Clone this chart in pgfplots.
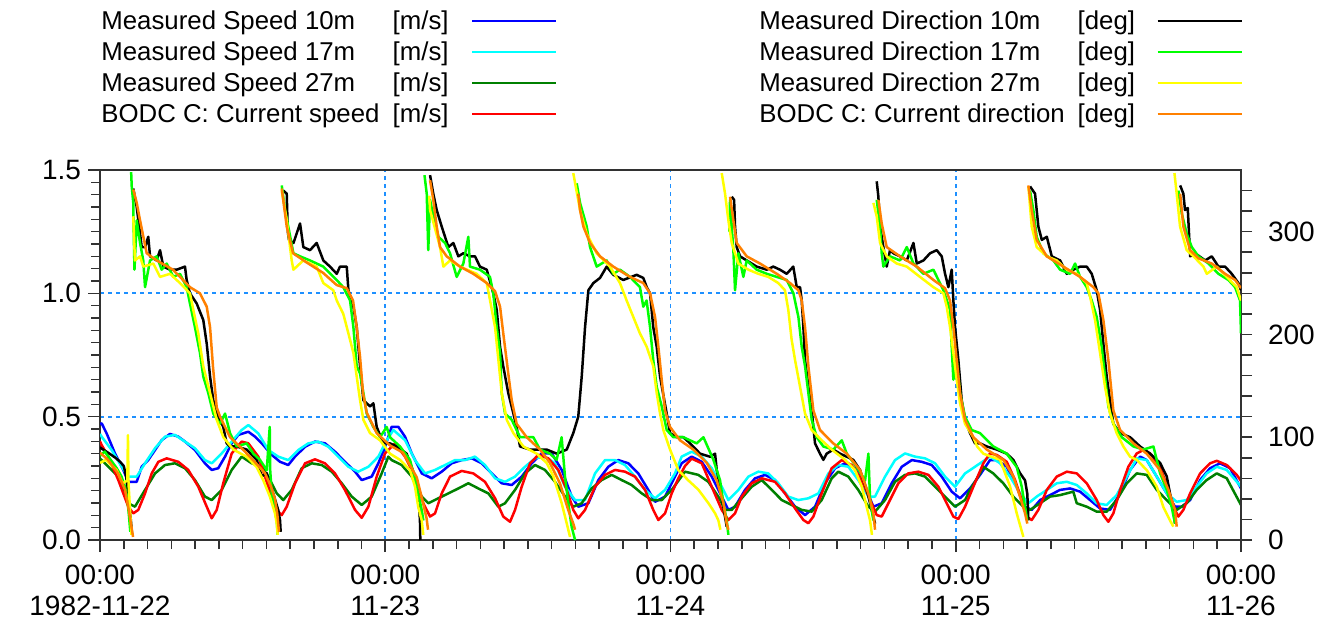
\documentclass[border=0pt]{standalone}
\usepackage{fontspec}
\setmainfont{Liberation Sans}
\usepackage{pgfplots}
\pgfplotsset{compat=1.18}

\definecolor{gridblue}{RGB}{30,144,255}
\definecolor{spd10}{RGB}{0,0,255}
\definecolor{spd17}{RGB}{0,255,255}
\definecolor{spd27}{RGB}{0,128,0}
\definecolor{spdmod}{RGB}{255,0,0}
\definecolor{dir10}{RGB}{0,0,0}
\definecolor{dir17}{RGB}{0,255,0}
\definecolor{dir27}{RGB}{255,255,0}
\definecolor{dirmod}{RGB}{255,128,0}
\definecolor{framegray}{RGB}{50,50,50}

\begin{document}
\begin{tikzpicture}
\pgfplotsset{
  panel/.style={
    at={(50pt,-270pt)}, anchor=south west,
    scale only axis, width=570.5pt, height=185pt,
    xmin=0, xmax=96,
    tick align=outside,
    major tick length=6pt, minor tick length=4.5pt,
    every tick/.style={line width=0.8pt, framegray},
    axis line style={line width=1pt, framegray},
    tick label style={font=\fontsize{14}{15.5}\selectfont},
    /pgf/number format/assume math mode=true,
    unbounded coords=jump,
    every axis plot/.append style={line width=1.25pt, line join=round, mark=none},
  }
}

% ---------------- speeds (left axis, m/s) ----------------
\begin{axis}[panel,
  ymin=0, ymax=1.5,
  xtick={0,24,48,72,96}, minor x tick num=11,
  xticklabels={{00:00\\1982-11-22},{00:00\\11-23},{00:00\\11-24},{00:00\\11-25},{00:00\\11-26}},
  xticklabel style={align=center, yshift=-3pt},
  ytick={0,0.5,1,1.5}, minor y tick num=9,
  yticklabel style={/pgf/number format/.cd, fixed, fixed zerofill, precision=1},
  xtick pos=left, ytick pos=left,
  grid=major,
  grid style={gridblue, line width=0.9pt, dash pattern=on 2pt off 2pt},
]
% Measured speed 10 m
\addplot[spd10] coordinates {
(0,0.47)(0.14,0.473)(0.56,0.432)(1.26,0.351)(1.96,0.284)(2.38,0.236)(3.09,0.236)(3.51,0.297)(4.06,0.324)(4.63,0.365)(5.19,0.405)(5.89,0.430)(6.59,0.419)(7.15,0.399)(7.99,0.365)(8.83,0.311)(9.40,0.284)(9.95,0.291)(10.52,0.338)(11.08,0.392)(11.64,0.426)(12.48,0.439)(13.04,0.419)(13.61,0.392)(14.45,0.345)(15.15,0.317)(15.84,0.304)(16.41,0.338)(17.25,0.378)(18.09,0.399)(18.93,0.392)(19.77,0.358)(20.61,0.317)(21.46,0.277)(22.02,0.243)(22.86,0.257)(23.42,0.311)(23.98,0.378)(24.54,0.459)(25.10,0.459)(25.66,0.419)(26.23,0.351)(27.07,0.270)(27.91,0.250)(28.75,0.277)(29.59,0.311)(30.43,0.324)(31.28,0.331)(32.12,0.311)(32.96,0.270)(33.80,0.230)(34.64,0.223)(35.48,0.257)(36.32,0.311)(37.16,0.351)(38.01,0.351)(38.85,0.284)(39.69,0.176)(40.24,0.135)(41.09,0.149)(41.93,0.243)(42.77,0.297)(43.61,0.324)(44.45,0.311)(45.29,0.270)(46.13,0.203)(46.70,0.155)(47.54,0.176)(48.38,0.257)(48.94,0.311)(49.78,0.338)(50.63,0.317)(51.47,0.257)(52.31,0.176)(52.87,0.122)(53.43,0.135)(54.27,0.203)(55.11,0.250)(55.96,0.264)(56.79,0.243)(57.64,0.189)(58.48,0.135)(59.32,0.101)(60.16,0.135)(61.00,0.230)(61.85,0.291)(62.69,0.311)(63.53,0.291)(64.37,0.216)(65.07,0.135)(65.77,0.149)(66.61,0.230)(67.46,0.297)(68.30,0.324)(69.14,0.317)(69.98,0.304)(70.82,0.257)(71.66,0.196)(72.36,0.169)(73.20,0.209)(74.04,0.264)(74.88,0.324)(75.45,0.324)(76.29,0.297)(77.13,0.216)(77.83,0.135)(78.39,0.122)(79.10,0.162)(79.93,0.182)(80.77,0.203)(81.62,0.209)(82.46,0.196)(83.30,0.162)(84.14,0.128)(84.98,0.122)(85.83,0.189)(86.67,0.284)(87.51,0.338)(88.07,0.324)(88.91,0.257)(89.75,0.189)(90.45,0.135)(91.01,0.135)(91.72,0.162)(92.56,0.243)(93.40,0.291)(94.24,0.311)(95.08,0.291)(96,0.209)
};
% Measured speed 17 m
\addplot[spd17] coordinates {
(0,0.43)(0.14,0.419)(0.98,0.365)(1.83,0.297)(2.38,0.257)(3.09,0.257)(3.79,0.311)(4.63,0.372)(5.47,0.419)(6.31,0.426)(7.15,0.399)(7.99,0.372)(8.83,0.324)(9.40,0.311)(10.24,0.351)(11.08,0.399)(11.92,0.446)(12.48,0.466)(13.32,0.432)(14.16,0.365)(15.00,0.338)(15.84,0.324)(16.69,0.365)(17.53,0.392)(18.37,0.399)(19.21,0.378)(20.05,0.338)(20.89,0.297)(21.73,0.277)(22.58,0.297)(23.42,0.338)(23.98,0.392)(24.68,0.446)(25.66,0.405)(26.50,0.324)(27.35,0.270)(28.19,0.284)(29.03,0.304)(29.87,0.324)(30.71,0.324)(31.55,0.338)(32.39,0.304)(33.24,0.250)(34.08,0.236)(34.92,0.257)(35.76,0.297)(36.60,0.331)(37.44,0.338)(38.28,0.311)(39.13,0.216)(39.97,0.162)(40.81,0.162)(41.65,0.270)(42.49,0.324)(43.33,0.324)(44.17,0.304)(45.01,0.257)(45.86,0.203)(46.70,0.169)(47.54,0.203)(48.38,0.270)(48.94,0.338)(49.78,0.358)(50.63,0.338)(51.47,0.291)(52.31,0.216)(52.87,0.162)(53.71,0.203)(54.55,0.257)(55.39,0.277)(56.23,0.270)(57.07,0.230)(57.91,0.176)(58.75,0.162)(59.60,0.169)(60.44,0.189)(61.28,0.270)(62.12,0.304)(62.96,0.297)(63.80,0.243)(64.65,0.176)(65.21,0.176)(66.05,0.257)(66.89,0.324)(67.73,0.351)(68.57,0.338)(69.42,0.331)(70.26,0.311)(71.10,0.257)(71.94,0.216)(72.78,0.270)(73.62,0.297)(74.88,0.338)(75.73,0.311)(76.57,0.257)(77.41,0.189)(78.11,0.149)(78.81,0.176)(79.66,0.203)(80.50,0.230)(81.34,0.236)(82.18,0.223)(83.02,0.189)(83.86,0.149)(84.70,0.142)(85.54,0.182)(86.39,0.257)(87.23,0.331)(88.07,0.324)(88.91,0.257)(89.75,0.189)(90.59,0.155)(91.43,0.162)(92.27,0.216)(93.11,0.270)(93.96,0.297)(94.80,0.284)(96,0.216)
};
% Measured speed 27 m
\addplot[spd27] coordinates {
(0,0.33)(0.14,0.324)(0.70,0.297)(1.54,0.257)(1.96,0.203)(2.38,0.149)(2.94,0.135)(3.79,0.203)(4.63,0.270)(5.47,0.304)(6.31,0.311)(7.15,0.291)(7.99,0.243)(8.83,0.176)(9.40,0.162)(10.24,0.203)(11.08,0.284)(11.92,0.338)(12.76,0.311)(13.61,0.297)(14.16,0.257)(14.87,0.189)(15.42,0.162)(16.13,0.203)(16.97,0.291)(17.81,0.311)(18.65,0.304)(19.50,0.277)(20.34,0.230)(21.18,0.176)(22.02,0.142)(22.86,0.176)(23.70,0.270)(24.26,0.338)(24.54,0.324)(25.38,0.304)(26.23,0.257)(27.07,0.176)(27.62,0.149)(28.46,0.169)(29.31,0.189)(30.15,0.209)(30.99,0.230)(31.83,0.209)(32.67,0.189)(33.51,0.135)(34.08,0.149)(34.92,0.203)(35.76,0.270)(36.60,0.304)(37.44,0.284)(38.28,0.236)(39.13,0.176)(39.82,0.135)(40.53,0.149)(41.37,0.209)(42.21,0.243)(43.05,0.264)(43.89,0.243)(44.73,0.223)(45.58,0.189)(46.42,0.162)(47.26,0.162)(48.10,0.203)(49.22,0.277)(50.34,0.264)(51.18,0.236)(52.02,0.176)(52.59,0.122)(53.15,0.122)(53.99,0.169)(54.83,0.216)(55.68,0.243)(56.52,0.203)(57.36,0.162)(58.20,0.142)(59.04,0.122)(59.88,0.115)(60.72,0.162)(61.56,0.250)(62.12,0.277)(62.96,0.257)(63.80,0.203)(64.65,0.135)(65.21,0.115)(66.05,0.162)(66.89,0.236)(67.73,0.264)(68.57,0.270)(69.42,0.257)(70.26,0.216)(71.10,0.176)(71.94,0.135)(72.78,0.162)(73.20,0.203)(74.04,0.270)(74.32,0.297)(75.16,0.270)(76.00,0.230)(76.84,0.176)(77.69,0.135)(78.25,0.122)(79.10,0.149)(79.93,0.176)(80.77,0.182)(81.89,0.196)(82.18,0.149)(83.02,0.135)(83.86,0.115)(84.70,0.115)(85.54,0.162)(86.39,0.230)(87.23,0.270)(88.07,0.264)(88.91,0.203)(89.75,0.162)(90.59,0.122)(91.43,0.149)(92.27,0.203)(93.11,0.243)(93.96,0.270)(94.80,0.250)(96,0.142)
};
% BODC C: current speed
\addplot[spdmod] coordinates {
(0,0.40)(0.14,0.385)(0.70,0.338)(1.54,0.243)(2.38,0.135)(2.80,0.108)(3.22,0.122)(3.79,0.189)(4.35,0.270)(4.91,0.317)(5.61,0.331)(6.59,0.317)(7.43,0.284)(8.27,0.216)(8.98,0.135)(9.40,0.088)(9.82,0.122)(10.37,0.230)(11.08,0.351)(11.92,0.399)(12.48,0.392)(13.32,0.338)(14.16,0.216)(14.87,0.122)(15.29,0.101)(15.71,0.135)(16.41,0.230)(17.25,0.311)(18.09,0.327)(18.93,0.311)(19.77,0.270)(20.61,0.203)(21.46,0.122)(22.02,0.090)(22.58,0.135)(23.28,0.257)(23.98,0.351)(24.82,0.392)(25.66,0.338)(26.50,0.257)(27.20,0.149)(27.77,0.095)(28.19,0.108)(28.75,0.189)(29.45,0.257)(30.43,0.280)(31.41,0.270)(32.39,0.236)(33.24,0.169)(33.93,0.095)(34.50,0.074)(34.92,0.122)(35.48,0.216)(36.18,0.311)(36.88,0.345)(37.72,0.331)(38.56,0.284)(39.27,0.203)(39.82,0.122)(40.24,0.088)(40.81,0.122)(41.65,0.216)(42.49,0.264)(43.33,0.284)(44.17,0.277)(45.01,0.257)(45.86,0.203)(46.55,0.122)(46.98,0.081)(47.54,0.108)(48.10,0.189)(48.66,0.250)(49.22,0.300)(49.78,0.330)(50.63,0.311)(51.47,0.216)(52.31,0.122)(52.87,0.081)(53.43,0.108)(53.99,0.176)(54.83,0.230)(55.68,0.250)(56.79,0.236)(57.64,0.189)(58.48,0.128)(59.18,0.081)(59.60,0.068)(60.02,0.095)(60.72,0.189)(61.56,0.291)(62.41,0.324)(63.25,0.304)(64.09,0.243)(64.79,0.162)(65.35,0.101)(65.77,0.095)(66.33,0.149)(67.17,0.230)(68.01,0.270)(68.85,0.277)(69.70,0.264)(70.54,0.216)(71.24,0.149)(71.80,0.095)(72.22,0.085)(72.78,0.135)(73.48,0.216)(74.32,0.311)(74.88,0.351)(75.45,0.345)(76.29,0.317)(76.99,0.243)(77.55,0.162)(77.97,0.095)(78.39,0.081)(78.95,0.122)(79.66,0.203)(80.50,0.257)(81.34,0.277)(82.18,0.270)(83.02,0.230)(83.86,0.162)(84.42,0.101)(84.84,0.074)(85.26,0.108)(85.83,0.203)(86.52,0.297)(87.23,0.351)(87.79,0.365)(88.35,0.351)(89.19,0.297)(89.89,0.203)(90.45,0.122)(90.73,0.095)(91.15,0.122)(91.72,0.189)(92.56,0.270)(93.40,0.311)(93.96,0.321)(94.80,0.304)(95.64,0.264)(96,0.240)
};
\end{axis}

% ---------------- directions (right axis, deg) ----------------
\begin{axis}[panel,
  ymin=0, ymax=360,
  axis x line=none,
  axis y line*=right,
  ytick={0,100,200,300},
  minor ytick={20,40,60,80,120,140,160,180,220,240,260,280,320,340},
  major tick length=5.5pt, minor tick length=5.5pt,
  yticklabel style={xshift=4.5pt},
]
% Measured direction 10 m
\addplot[dir10] coordinates {
(0,90)(0.8,84)(1.3,80)(1.7,76)(2.0,72)(2.2,62)(2.4,40)(2.6,19)(2.7,5)
(2.75,nan)
(2.80,342)(3.09,324)(3.37,298)(3.51,285)(3.79,285)(4.06,295)(4.21,276)(4.77,272)(5.05,282)(5.33,266)(5.89,263)(6.45,263)(7.15,266)(7.29,253)(7.57,240)(8.14,230)(8.69,214)(8.98,191)(9.26,159)(9.53,136)(9.95,120)(10.37,110)(10.66,94)(10.94,91)(11.50,91)(12.34,88)(13.18,78)(13.61,62)(14.03,65)(14.58,45)(15.00,29)(15.15,19)(15.2,8)
(15.3,nan)
(15.42,340)(15.71,337)(15.80,300)(15.90,292)(16.28,289)(16.83,308)(17.11,285)(17.67,282)(18.23,289)(18.79,272)(19.35,266)(19.92,259)(20.19,266)(20.76,266)(20.90,243)(21.32,227)(21.60,207)(21.88,169)(22.16,136)(22.72,130)(23.00,133)(23.28,110)(23.84,94)(24.40,94)(24.96,91)(25.80,84)(26.50,62)(26.78,45)(26.92,19)(26.95,0)
(27.2,nan)
(27.77,355)(28.04,337)(28.33,321)(28.75,305)(29.03,295)(29.31,285)(29.73,289)(30.15,276)(30.57,279)(31.13,276)(31.55,276)(31.97,266)(32.54,263)(33.09,240)(33.38,224)(33.66,188)(33.93,169)(34.35,143)(34.78,123)(35.05,110)(35.34,91)(36.18,88)(37.58,88)(38.43,84)(39.27,88)(39.82,104)(40.24,120)(40.53,159)(40.81,207)(41.09,243)(41.51,250)(42.07,255)(42.63,266)(43.19,258)(44.03,253)(45.15,258)(45.71,255)(46.00,246)(46.28,240)(46.55,207)(46.84,188)(47.12,159)(47.68,123)(47.96,104)(48.52,100)(49.08,100)(49.65,94)(50.49,84)(51.33,81)(51.75,84)(51.89,68)(52.17,52)(52.45,32)(52.73,13)
(52.9,nan)
(53.15,334)(53.35,331)(53.43,305)(53.57,285)(53.85,276)(54.41,272)(55.25,266)(56.10,263)(56.65,266)(57.21,263)(57.78,259)(58.33,266)(58.62,246)(58.90,246)(59.04,233)(59.18,207)(59.32,175)(59.60,149)(59.88,126)(60.16,94)(60.58,84)(60.86,78)(61.14,84)(61.70,88)(62.27,84)(62.83,81)(63.38,78)(63.95,68)(64.51,49)(64.93,29)(65.21,16)
(65.3,nan)
(65.35,349)(65.49,334)(65.63,305)(65.91,285)(66.19,266)(66.47,282)(66.75,279)(67.31,276)(67.88,272)(68.44,289)(68.72,269)(69.28,272)(69.84,279)(70.40,282)(70.82,276)(71.10,259)(71.38,246)(71.66,263)(71.80,233)(71.94,207)(72.22,175)(72.50,136)(72.78,117)(73.20,104)(73.62,94)(74.04,94)(74.61,91)(75.45,88)(76.29,84)(76.84,78)(77.41,65)(77.83,58)(78.02,45)(78.11,19)
(78.18,nan)
(78.25,344)(78.67,337)(78.95,305)(79.24,292)(79.66,295)(80.08,276)(80.78,272)(81.34,259)(81.90,263)(82.46,266)(83.02,266)(83.44,259)(83.86,243)(84.14,224)(84.42,191)(84.70,159)(84.98,136)(85.26,113)(85.83,104)(86.67,100)(87.51,91)(88.35,84)(89.19,75)(89.75,62)(90.03,45)(90.31,29)(90.45,16)
(90.7,nan)
(90.88,345)(91.15,337)(91.29,321)(91.52,323)(91.72,276)(92.14,279)(92.98,272)(93.54,276)(94.10,266)(94.66,266)(95.22,259)(95.78,250)(96,243)
};
% Measured direction 17 m
\addplot[dir17] coordinates {
(0,82)(0.4,86)(0.9,78)(1.4,70)(1.8,62)(2.1,52)(2.3,40)(2.45,22)(2.55,8)
(2.6,nan)
(2.62,358)(2.67,344)(2.80,328)(2.83,305)(2.90,263)(3.09,311)(3.37,289)(3.64,272)(3.79,246)(4.21,272)(4.77,276)(5.19,263)(5.61,269)(6.17,256)(6.73,259)(7.29,246)(7.57,230)(7.99,207)(8.41,182)(8.69,159)(9.11,143)(9.53,123)(10.10,113)(10.52,123)(10.94,104)(11.50,91)(12.34,94)(12.90,84)(13.46,78)(14.03,68)(14.28,110)(14.32,68)(14.45,45)(14.72,29)(14.87,19)(14.95,5)
(15.1,nan)
(15.29,345)(15.57,321)(15.84,305)(16.27,279)(16.83,276)(17.67,272)(18.79,266)(19.91,253)(20.47,246)(21.04,233)(21.32,207)(21.60,169)(21.88,162)(22.16,143)(22.44,123)(23.00,110)(23.56,100)(24.12,110)(24.40,100)(25.24,91)(26.08,78)(26.65,52)(27.07,29)(27.21,19)
(27.25,nan)
(27.30,355)(27.49,337)(27.62,282)(27.77,331)(28.05,315)(28.47,295)(29.03,289)(29.45,279)(30.01,256)(30.57,269)(30.99,295)(31.13,266)(31.97,263)(32.81,256)(33.09,240)(33.38,207)(33.66,182)(33.80,143)(34.08,123)(34.64,117)(35.34,100)(36.46,100)(37.02,88)(37.86,84)(38.42,78)(38.84,100)(39.12,62)(39.40,36)(39.68,13)(39.97,0)
(40.0,nan)
(40.11,347)(40.39,328)(40.95,305)(41.23,285)(41.79,266)(42.63,272)(43.19,259)(43.75,263)(44.59,256)(45.43,246)(45.71,227)(45.99,233)(46.28,207)(46.55,175)(46.84,149)(47.26,130)(47.68,107)(48.24,100)(49.08,100)(50.20,94)(50.77,100)(51.61,78)(52.17,58)(52.45,36)(52.73,19)(52.87,5)
(52.9,nan)
(52.95,300)(53.01,331)(53.15,305)(53.29,282)(53.43,243)(53.71,279)(54.13,256)(54.41,272)(55.25,263)(56.10,259)(56.94,256)(57.78,253)(58.34,240)(58.76,217)(59.04,188)(59.32,169)(59.60,143)(59.88,117)(60.30,100)(60.86,91)(61.70,88)(62.41,97)(62.83,84)(63.67,71)(64.37,58)(64.65,84)(64.79,39)(65.07,19)
(65.2,nan)
(65.35,331)(65.63,305)(65.77,279)(65.91,266)(66.47,276)(67.31,272)(67.88,285)(68.44,269)(69.28,259)(70.12,263)(70.96,243)(71.52,224)(71.66,188)(71.80,156)(72.08,175)(72.36,143)(72.78,120)(73.34,107)(74.04,104)(75.17,91)(76.29,84)(77.13,71)(77.55,52)(77.83,32)(78.02,19)
(78.1,nan)
(78.25,340)(78.53,321)(78.81,295)(79.37,279)(80.21,272)(80.78,263)(81.62,259)(82.04,269)(82.46,256)(83.02,246)(83.44,233)(83.86,217)(84.28,188)(84.56,159)(84.84,130)(85.26,113)(85.97,100)(86.95,91)(87.79,88)(88.63,91)(89.19,65)(89.75,49)(90.17,32)(90.45,16)
(90.6,nan)
(90.73,340)(91.01,318)(91.43,298)(91.86,285)(92.42,276)(93.26,269)(94.10,259)(94.94,253)(95.50,246)(95.92,233)(96,201)
};
% Measured direction 27 m
\addplot[dir27] coordinates {
(0,75)(0.5,78)(1.0,72)(1.4,68)(1.9,55)(2.30,58)(2.35,102)(2.40,55)(2.55,25)(2.65,5)
(2.7,nan)
(2.80,315)(2.85,298)(2.94,272)(3.37,276)(3.64,266)(4.49,269)(5.05,256)(5.89,259)(6.73,250)(7.57,240)(7.85,224)(8.27,201)(8.69,169)(9.26,143)(9.82,117)(10.38,100)(11.22,88)(12.34,81)(13.18,71)(13.74,58)(14.30,42)(14.72,26)(14.87,16)(14.95,5)
(15.1,nan)
(15.29,340)(15.71,311)(16.13,272)(16.27,263)(17.11,272)(18.23,266)(18.79,250)(19.63,243)(19.92,233)(20.47,220)(20.90,201)(21.32,182)(21.60,159)(21.88,136)(22.16,117)(22.72,104)(23.56,97)(24.40,84)(25.24,78)(26.08,68)(26.50,52)(26.78,32)(27.07,19)(27.20,5)
(27.4,nan)
(27.70,335)(27.77,321)(28.61,285)(28.89,266)(29.45,272)(30.29,266)(31.69,259)(32.54,250)(32.82,233)(33.24,207)(33.52,175)(33.80,143)(34.22,117)(34.78,104)(35.62,91)(36.74,84)(37.58,75)(38.14,62)(38.84,36)(39.27,16)(39.55,3)
(39.7,nan)
(39.82,357)(40.39,321)(40.95,298)(41.79,279)(42.91,266)(43.75,250)(44.31,233)(44.87,217)(45.43,201)(46.00,188)(46.55,169)(46.84,143)(47.12,123)(47.40,107)(47.96,88)(48.66,68)(49.50,58)(50.34,49)(51.18,36)(51.75,26)(52.03,19)(52.20,10)
(52.25,nan)
(52.31,357)(52.59,337)(52.87,311)(53.15,289)(53.71,269)(54.55,263)(55.39,259)(56.23,256)(57.07,250)(57.63,243)(57.91,224)(58.19,195)(58.48,175)(58.90,149)(59.32,123)(59.88,107)(60.72,97)(61.56,88)(62.69,78)(63.53,68)(64.09,52)(64.51,32)(64.79,19)(64.95,5)
(65.0,nan)
(65.07,328)(65.35,315)(65.63,289)(66.19,276)(67.03,269)(67.88,266)(68.99,256)(70.12,246)(70.96,240)(71.24,227)(71.52,207)(71.80,182)(72.08,156)(72.36,133)(72.78,113)(73.48,100)(73.80,91)(74.32,84)(75.73,78)(76.57,52)(77.13,26)(77.69,3)
(77.9,nan)
(78.11,344)(78.39,305)(78.81,285)(79.66,276)(80.50,272)(81.34,263)(82.18,259)(83.02,250)(83.30,237)(83.72,214)(84.14,182)(84.56,149)(84.98,123)(85.54,104)(86.10,91)(86.67,81)(87.23,78)(88.07,68)(88.91,52)(89.47,32)(90.03,19)(90.31,13)
(90.35,nan)
(90.40,357)(90.59,337)(90.87,305)(91.43,282)(92.00,276)(92.84,266)(93.12,259)(93.96,266)(94.80,256)(95.64,246)(96,233)
};
% BODC C: current direction
\addplot[dirmod] coordinates {
(0,85)(0.67,78)(1.51,65)(2.10,49)(2.38,32)(2.67,11)(2.78,3)
(2.79,nan)
(2.80,341)(3.09,328)(3.37,311)(3.93,279)(4.77,272)(6.14,263)(7.57,246)(8.41,240)(8.98,227)(9.26,207)(9.51,168)(9.82,129)(10.10,120)(10.94,100)(12.03,88)(13.18,74)(13.88,65)(14.39,52)(14.72,40)(14.92,25)(15.06,8)
(15.15,nan)
(15.29,342)(15.71,305)(16.24,279)(17.39,270)(18.76,260)(19.92,248)(20.76,245)(21.29,233)(21.60,207)(21.88,178)(22.13,143)(22.44,124)(23.28,104)(24.40,92)(25.49,85)(26.65,61)(27.18,36)(27.48,21)(27.60,10)
(27.7,nan)
(27.77,350)(28.04,331)(28.33,305)(28.61,285)(29.17,276)(30.29,266)(31.41,259)(32.54,250)(33.24,242)(33.66,227)(33.93,201)(34.35,162)(34.64,136)(35.06,113)(35.90,100)(37.02,88)(37.86,75)(38.70,55)(39.40,29)(39.82,16)(39.97,10)
(40.1,nan)
(40.24,337)(40.39,321)(40.67,305)(41.23,289)(42.07,276)(43.19,266)(44.59,256)(45.71,250)(46.28,240)(46.70,217)(46.98,188)(47.26,156)(47.54,126)(47.96,110)(48.80,97)(49.92,88)(51.05,75)(51.89,58)(52.45,36)(52.73,16)(52.87,10)
(52.95,nan)
(53.01,334)(53.29,311)(53.57,289)(54.41,276)(55.53,269)(56.94,259)(58.06,250)(58.76,243)(59.04,233)(59.32,207)(59.60,169)(60.02,126)(60.58,107)(61.70,94)(62.83,84)(63.95,68)(64.65,45)(65.07,26)(65.21,10)
(65.3,nan)
(65.49,331)(65.77,308)(66.19,285)(67.31,276)(68.72,266)(70.12,253)(71.10,245)(71.52,233)(71.80,207)(72.08,175)(72.36,143)(72.78,117)(73.48,100)(74.61,88)(76.00,78)(76.84,62)(77.41,42)(77.83,26)(78.02,16)
(78.05,nan)
(78.11,345)(78.39,321)(78.81,292)(79.66,276)(81.05,266)(82.46,256)(83.58,246)(84.00,240)(84.42,214)(84.84,175)(85.26,126)(85.83,107)(86.95,94)(88.07,84)(89.19,68)(89.89,49)(90.45,29)(90.59,13)
(90.7,nan)
(90.88,337)(91.15,305)(91.72,282)(92.42,274)(93.54,269)(94.66,259)(95.50,253)(96,245)
};
\end{axis}

% ---------------- legend ----------------
\begin{scope}[every node/.style={inner sep=0pt, font=\fontsize{12.9}{14}\selectfont}]
  \node[anchor=base west] at (50.5pt,-14.75pt) {Measured Speed 10m};
  \node[anchor=base east] at (224.5pt,-14.75pt) {[m/s]};
  \node[anchor=base west] at (50.5pt,-30.25pt) {Measured Speed 17m};
  \node[anchor=base east] at (224.5pt,-30.25pt) {[m/s]};
  \node[anchor=base west] at (50.5pt,-45.75pt) {Measured Speed 27m};
  \node[anchor=base east] at (224.5pt,-45.75pt) {[m/s]};
  \node[anchor=base west] at (50.5pt,-61.25pt) {BODC C: Current speed};
  \node[anchor=base east] at (224.5pt,-61.25pt) {[m/s]};
  \draw[spd10, line width=1.25pt]  (236pt,-10.5pt) -- (278pt,-10.5pt);
  \draw[spd17, line width=1.25pt]  (236pt,-26pt) -- (278pt,-26pt);
  \draw[spd27, line width=1.25pt]  (236pt,-41.5pt) -- (278pt,-41.5pt);
  \draw[spdmod, line width=1.25pt] (236pt,-57pt) -- (278pt,-57pt);

  \node[anchor=base west] at (379.5pt,-14.75pt) {Measured Direction 10m};
  \node[anchor=base east] at (567.75pt,-14.75pt) {[deg]};
  \node[anchor=base west] at (379.5pt,-30.25pt) {Measured Direction 17m};
  \node[anchor=base east] at (567.75pt,-30.25pt) {[deg]};
  \node[anchor=base west] at (379.5pt,-45.75pt) {Measured Direction 27m};
  \node[anchor=base east] at (567.75pt,-45.75pt) {[deg]};
  \node[anchor=base west] at (379.5pt,-61.25pt) {BODC C: Current direction};
  \node[anchor=base east] at (567.75pt,-61.25pt) {[deg]};
  \draw[dir10, line width=1.25pt]  (578.75pt,-10.5pt) -- (621pt,-10.5pt);
  \draw[dir17, line width=1.25pt]  (578.75pt,-26pt) -- (621pt,-26pt);
  \draw[dir27, line width=1.25pt]  (578.75pt,-41.5pt) -- (621pt,-41.5pt);
  \draw[dirmod, line width=1.25pt] (578.75pt,-57pt) -- (621pt,-57pt);
\end{scope}

\pgfresetboundingbox
\path[use as bounding box] (0pt,0pt) rectangle (672pt,-313pt);
\end{tikzpicture}
\end{document}
